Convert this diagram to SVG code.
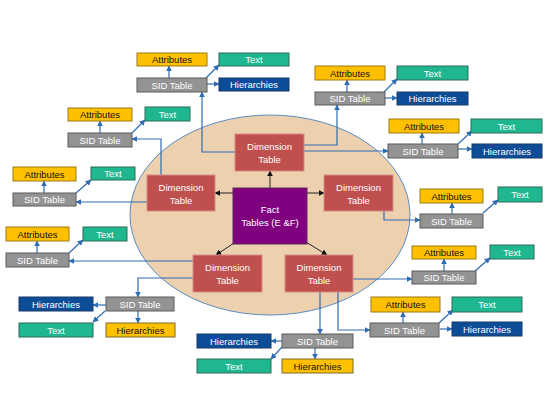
<svg xmlns="http://www.w3.org/2000/svg" width="549" height="412" viewBox="0 0 549 412">
<style>
text{font-family:"Liberation Sans",Arial,sans-serif;font-size:9.5px;text-anchor:middle;dominant-baseline:central}
.att{fill:#FFC000;stroke:#9C7A10;stroke-width:1}
.att+text,.yh+text{fill:#111}
.txt{fill:#1FB78F;stroke:#2C6B5A;stroke-width:1}
.hie{fill:#0D4D98;stroke:#173B66;stroke-width:1}
.yh{fill:#FFC000;stroke:#7F6A2A;stroke-width:1}
.sid{fill:#939393;stroke:#5A5A5A;stroke-width:1}
.dim{fill:#C0504D;stroke:#D88A88;stroke-width:1}
.w{fill:#fff}
.bl{stroke:#2E6CB3;stroke-width:1.2;fill:none;marker-end:url(#ab)}
.bk{stroke:#222;stroke-width:1;fill:none;marker-end:url(#ak)}
</style>
<defs>
<marker id="ab" viewBox="0 0 10 10" refX="9" refY="5" markerWidth="6" markerHeight="6" markerUnits="userSpaceOnUse" orient="auto"><path d="M0,0L10,5L0,10z" fill="#2E6CB3"/></marker>
<marker id="ak" viewBox="0 0 10 10" refX="9" refY="5" markerWidth="6" markerHeight="6" markerUnits="userSpaceOnUse" orient="auto"><path d="M0,0L10,5L0,10z" fill="#111"/></marker>
</defs>
<rect width="549" height="412" fill="#fff"/>
<ellipse id="ellipse" cx="270" cy="215" rx="140" ry="100" fill="#EDD1AE" stroke="#5B8BC4" stroke-width="1"/>
<g id="connectors">
<path class="bk" d="M270,188V171"/>
<path class="bk" d="M233,193H215"/>
<path class="bk" d="M307,193H324"/>
<path class="bk" d="M234,243L216,255"/>
<path class="bk" d="M306,242L327,255"/>
<path class="bl" d="M235,152H202V92"/>
<path class="bl" d="M304,145H337V105"/>
<path class="bl" d="M304,151H388"/>
<path class="bl" d="M161,175V139H132"/>
<path class="bl" d="M147,202H76"/>
<path class="bl" d="M193,261H69"/>
<path class="bl" d="M193,278H138V297"/>
<path class="bl" d="M384,211V220H420"/>
<path class="bl" d="M353,279H412"/>
<path class="bl" d="M338,292V330H370"/>
<path class="bl" d="M320,292V334"/>
<path class="bl" d="M169,78V66"/>
<path class="bl" d="M206,78L219,65"/>
<path class="bl" d="M207,84H219"/>
<path class="bl" d="M100,133V121"/>
<path class="bl" d="M132,133L145,120"/>
<path class="bl" d="M44,193V181"/>
<path class="bl" d="M76,193L91,180"/>
<path class="bl" d="M37,253V241"/>
<path class="bl" d="M69,253L83,240"/>
<path class="bl" d="M106,305H93"/>
<path class="bl" d="M105,311L93,322"/>
<path class="bl" d="M138,311V323"/>
<path class="bl" d="M282,341H271"/>
<path class="bl" d="M282,347L271,359"/>
<path class="bl" d="M315,348V359"/>
<path class="bl" d="M403,323V312"/>
<path class="bl" d="M439,323L453,310"/>
<path class="bl" d="M440,329H452"/>
<path class="bl" d="M444,271V259"/>
<path class="bl" d="M475,271L490,258"/>
<path class="bl" d="M452,214V203"/>
<path class="bl" d="M483,213L498,200"/>
<path class="bl" d="M422,144V133"/>
<path class="bl" d="M458,144L472,131"/>
<path class="bl" d="M458,149H472"/>
<path class="bl" d="M347,92V80"/>
<path class="bl" d="M384,92L397,79"/>
<path class="bl" d="M385,98H397"/>
</g>
<g id="fact"><rect x="233" y="188" width="74" height="56" fill="#800080" stroke="#5A2A5A"/><text class="w" x="270" y="209">Fact</text><text class="w" x="270" y="222">Tables (E &amp;F)</text></g>
<g id="dim-top"><rect class="dim" x="235" y="134" width="69" height="37"/><text class="w" x="269.5" y="146">Dimension</text><text class="w" x="269.5" y="159">Table</text></g>
<g id="dim-left"><rect class="dim" x="147" y="175" width="68" height="36"/><text class="w" x="181" y="187">Dimension</text><text class="w" x="181" y="200">Table</text></g>
<g id="dim-right"><rect class="dim" x="324" y="175" width="69" height="36"/><text class="w" x="358.5" y="187">Dimension</text><text class="w" x="358.5" y="200">Table</text></g>
<g id="dim-bl"><rect class="dim" x="193" y="255" width="69" height="37"/><text class="w" x="227.5" y="267">Dimension</text><text class="w" x="227.5" y="280">Table</text></g>
<g id="dim-br"><rect class="dim" x="285" y="255" width="68" height="37"/><text class="w" x="319" y="267">Dimension</text><text class="w" x="319" y="280">Table</text></g>

<g id="g1">
<rect class="att" x="137" y="53" width="70" height="13"/><text x="172" y="59.5">Attributes</text>
<rect class="txt" x="219" y="53" width="70" height="13"/><text class="w" x="254" y="59.5">Text</text>
<rect class="sid" x="137" y="78" width="70" height="14"/><text class="w" x="172" y="85">SID Table</text>
<rect class="hie" x="219" y="78" width="70" height="13"/><text class="w" x="254" y="84.5">Hierarchies</text>
</g>
<g id="g2">
<rect class="att" x="68" y="108" width="64" height="13"/><text x="100" y="114.5">Attributes</text>
<rect class="txt" x="145" y="107" width="45" height="14"/><text class="w" x="167.5" y="114">Text</text>
<rect class="sid" x="68" y="133" width="64" height="14"/><text class="w" x="100" y="140">SID Table</text>
</g>
<g id="g3">
<rect class="att" x="13" y="167" width="63" height="14"/><text x="44.5" y="174">Attributes</text>
<rect class="txt" x="91" y="167" width="44" height="13"/><text class="w" x="113" y="173.5">Text</text>
<rect class="sid" x="13" y="193" width="63" height="13"/><text class="w" x="44.5" y="199.5">SID Table</text>
</g>
<g id="g4">
<rect class="att" x="6" y="227" width="63" height="14"/><text x="37.5" y="234">Attributes</text>
<rect class="txt" x="83" y="227" width="44" height="14"/><text class="w" x="105" y="234">Text</text>
<rect class="sid" x="6" y="253" width="63" height="14"/><text class="w" x="37.5" y="260">SID Table</text>
</g>
<g id="g5">
<rect class="sid" x="106" y="297" width="68" height="14"/><text class="w" x="140" y="304">SID Table</text>
<rect class="hie" x="19" y="297" width="74" height="14"/><text class="w" x="56" y="304">Hierarchies</text>
<rect class="txt" x="19" y="323" width="74" height="14"/><text class="w" x="56" y="330">Text</text>
<rect class="yh" x="106" y="323" width="69" height="14"/><text x="140.5" y="330">Hierarchies</text>
</g>
<g id="g6">
<rect class="sid" x="282" y="334" width="71" height="14"/><text class="w" x="317.5" y="341">SID Table</text>
<rect class="hie" x="197" y="334" width="74" height="14"/><text class="w" x="234" y="341">Hierarchies</text>
<rect class="txt" x="197" y="359" width="74" height="14"/><text class="w" x="234" y="366">Text</text>
<rect class="yh" x="282" y="359" width="71" height="14"/><text x="317.5" y="366">Hierarchies</text>
</g>
<g id="g7">
<rect class="att" x="371" y="297" width="69" height="15"/><text x="405.5" y="304.5">Attributes</text>
<rect class="txt" x="452" y="297" width="70" height="15"/><text class="w" x="487" y="304.5">Text</text>
<rect class="sid" x="370" y="323" width="69" height="14"/><text class="w" x="404.5" y="330">SID Table</text>
<rect class="hie" x="452" y="322" width="70" height="14"/><text class="w" x="487" y="329">Hierarchies</text>
</g>
<g id="g8">
<rect class="att" x="412" y="246" width="64" height="13"/><text x="444" y="252.5">Attributes</text>
<rect class="txt" x="490" y="245" width="44" height="14"/><text class="w" x="512" y="252">Text</text>
<rect class="sid" x="412" y="271" width="64" height="13"/><text class="w" x="444" y="277.5">SID Table</text>
</g>
<g id="g9">
<rect class="att" x="420" y="189" width="63" height="14"/><text x="451.5" y="196">Attributes</text>
<rect class="txt" x="498" y="187" width="44" height="15"/><text class="w" x="520" y="194.5">Text</text>
<rect class="sid" x="420" y="214" width="63" height="14"/><text class="w" x="451.5" y="221">SID Table</text>
</g>
<g id="g10">
<rect class="att" x="389" y="119" width="70" height="14"/><text x="424" y="126">Attributes</text>
<rect class="txt" x="471" y="119" width="71" height="14"/><text class="w" x="506.5" y="126">Text</text>
<rect class="sid" x="388" y="144" width="70" height="14"/><text class="w" x="423" y="151">SID Table</text>
<rect class="hie" x="472" y="144" width="70" height="14"/><text class="w" x="507" y="151">Hierarchies</text>
</g>
<g id="g11">
<rect class="att" x="315" y="66" width="70" height="14"/><text x="350" y="73">Attributes</text>
<rect class="txt" x="397" y="66" width="71" height="14"/><text class="w" x="432.5" y="73">Text</text>
<rect class="sid" x="315" y="92" width="70" height="13"/><text class="w" x="350" y="98.5">SID Table</text>
<rect class="hie" x="397" y="92" width="71" height="13"/><text class="w" x="432.5" y="98.5">Hierarchies</text>
</g>
</svg>
